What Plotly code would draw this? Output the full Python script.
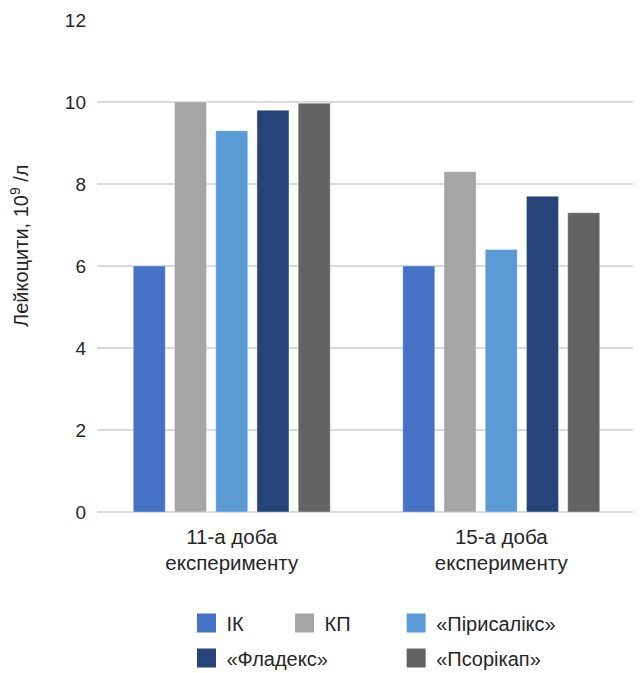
import plotly.graph_objects as go

categories = ["11-а доба<br>експерименту", "15-а доба<br>експерименту"]
series_names = ["ІК", "КП", "«Пірисалікс»", "«Фладекс»", "«Псорікап»"]
values_ik = [6.0, 6.0]
values_kp = [10.0, 8.3]
values_pirysaliks = [9.3, 6.4]
values_fladeks = [9.8, 7.7]
values_psorikap = [9.97, 7.3]
y_ticks = [0, 2, 4, 6, 8, 10, 12]
y_title = "Лейкоцити, 10<sup>9</sup> /л"

series_values = [values_ik, values_kp, values_pirysaliks, values_fladeks, values_psorikap]
colors = ["#4472C4", "#A5A5A5", "#5B9BD5", "#264478", "#636363"]
legend_ids = ["legend", "legend2", "legend3", "legend", "legend3"]

font = "Liberation Sans"
txt = "#262626"
fig = go.Figure()
for i, (name, vals, col) in enumerate(zip(series_names, series_values, colors)):
    fig.add_trace(go.Bar(
        x=categories, y=vals, name=name, showlegend=False, legendgroup=f"g{i}",
        marker=dict(color=col, line=dict(color="rgba(255,255,255,0.6)", width=0.6)),
    ))
# legend entries (large square swatches)
for i, (name, col, lg) in enumerate(zip(series_names, colors, legend_ids)):
    fig.add_trace(go.Scatter(
        x=[None], y=[None], mode="markers", name=name, legend=lg, legendgroup=f"g{i}",
        marker=dict(symbol="square", size=16, color=col, line=dict(color=col, width=3)),
        hoverinfo="skip",
    ))

leg_common = dict(orientation="v", yanchor="top", y=-0.186, xanchor="left",
                  font=dict(family=font, size=20, color=txt),
                  bgcolor="rgba(0,0,0,0)", tracegroupgap=6, itemwidth=30)

fig.update_layout(
    width=633, height=665,
    margin=dict(l=89, r=5, t=12, b=161, autoexpand=False),
    plot_bgcolor="white", paper_bgcolor="white",
    barmode="group", bargap=0.235, bargroupgap=0.224,
    font=dict(family=font, size=18, color=txt),
    xaxis=dict(showline=False, ticks="", automargin=False, ticklabelstandoff=10,
               tickfont=dict(family=font, size=20.5, color=txt)),
    yaxis=dict(range=[0, 12], tickvals=y_ticks, showgrid=True, gridcolor="#D9D9D9",
               gridwidth=1.5, zeroline=True, zerolinecolor="#D9D9D9", zerolinewidth=1.5,
               showline=False, ticks="", ticklabelstandoff=10, automargin=False,
               tickfont=dict(family=font, size=19, color=txt)),
    annotations=[dict(text=y_title, textangle=-90, xref="paper", yref="paper",
                      x=-0.143, y=0.5407, xanchor="center", yanchor="middle",
                      showarrow=False, font=dict(family=font, size=20, color=txt))],
    legend=dict(x=0.166, **leg_common),
    legend2=dict(x=0.348, **leg_common),
    legend3=dict(x=0.555, **leg_common),
)

fig.write_html("out.html")
